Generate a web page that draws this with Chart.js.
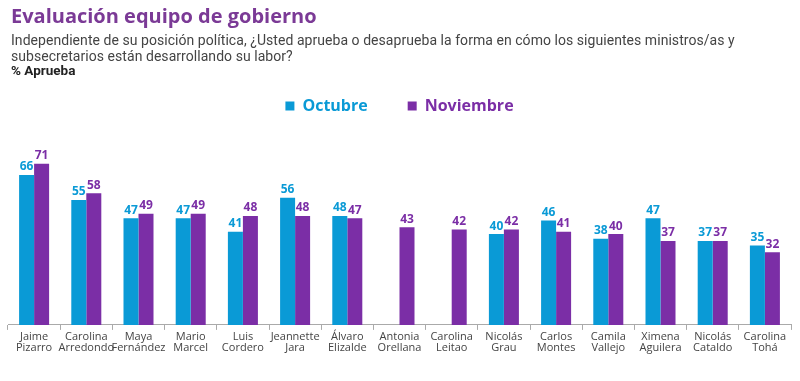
<!DOCTYPE html>
<html><head><meta charset="utf-8">
<script src="https://cdn.jsdelivr.net/npm/chart.js@4/dist/chart.umd.min.js"></script>
<style>
html,body{margin:0;padding:0;background:#fff;width:800px;height:381px;overflow:hidden}
#t{position:absolute;left:11px;top:2px;font-family:"Open Sans",sans-serif;font-weight:700;font-size:20px;color:#7b3a96}
#s{position:absolute;left:11px;top:32px;width:790px;white-space:nowrap;font-family:Roboto,sans-serif;font-size:14px;letter-spacing:0.05px;line-height:16px;color:#444}
#p{position:absolute;left:11px;top:62px;font-family:Roboto,sans-serif;font-size:13.5px;font-weight:700;color:#222}
#wrap{position:absolute;left:0;top:0;width:800px;height:381px}
</style></head><body>
<div id="wrap"><canvas id="c" width="800" height="381"></canvas></div>
<div id="t">Evaluación equipo de gobierno</div>
<div id="s">Independiente de su posición política, ¿Usted aprueba o desaprueba la forma en cómo los siguientes ministros/as y<br>subsecretarios están desarrollando su labor?</div>
<div id="p">% Aprueba</div>
<script>
const categories = [["Jaime","Pizarro"],["Carolina","Arredondo"],["Maya","Fernández"],["Mario","Marcel"],["Luis","Cordero"],["Jeannette","Jara"],["Álvaro","Elizalde"],["Antonia","Orellana"],["Carolina","Leitao"],["Nicolás","Grau"],["Carlos","Montes"],["Camila","Vallejo"],["Ximena","Aguilera"],["Nicolás","Cataldo"],["Carolina","Tohá"]];
const octubre = [66,55,47,47,41,56,48,null,null,40,46,38,47,37,35];
const noviembre = [71,58,49,49,48,48,47,43,42,42,41,40,37,37,32];
const seriesNames = ["Octubre","Noviembre"];
const colors = ["#0a9ad6","#7b2ea6"];

const labelPlugin = {
  id:'vals',
  afterDatasetsDraw(chart){
    const ctx = chart.ctx;
    ctx.save();
    ctx.font = 'bold 12px "Open Sans", sans-serif';
    ctx.textAlign='center';
    ctx.textBaseline='bottom';
    chart.data.datasets.forEach((ds,i)=>{
      const meta = chart.getDatasetMeta(i);
      ctx.fillStyle = colors[i];
      meta.data.forEach((bar,j)=>{
        const v = ds.data[j];
        if(v==null) return;
        ctx.fillText(String(v), bar.x, bar.y-2);
      });
    });
    ctx.restore();
  }
};

new Chart(document.getElementById('c'),{
  type:'bar',
  data:{labels:categories,datasets:[
    {label:seriesNames[0],data:octubre,backgroundColor:colors[0]},
    {label:seriesNames[1],data:noviembre,backgroundColor:colors[1]}
  ]},
  options:{
    responsive:false,animation:false,
    layout:{padding:{top:58,left:8,right:9,bottom:26}},
    datasets:{bar:{categoryPercentage:0.575,barPercentage:1}},
    plugins:{
      legend:{position:'top',labels:{boxWidth:9,boxHeight:9,padding:40,font:{family:'"Open Sans", sans-serif',size:16,weight:'bold'},
        generateLabels(chart){return chart.data.datasets.map((d,i)=>({text:d.label,fillStyle:colors[i],strokeStyle:colors[i],lineWidth:0,fontColor:colors[i],datasetIndex:i}));}}},
      tooltip:{enabled:false}
    },
    scales:{
      x:{grid:{display:true,drawOnChartArea:false,offset:true,tickLength:5,color:'#aaa'},border:{color:'#aaa'},
        ticks:{color:'#444',font:{family:'"Open Sans", sans-serif',size:11,lineHeight:1.05},maxRotation:0,autoSkip:false,padding:1}},
      y:{display:false,min:0,max:88.5}
    }
  },
  plugins:[labelPlugin]
});
</script>
</body></html>
